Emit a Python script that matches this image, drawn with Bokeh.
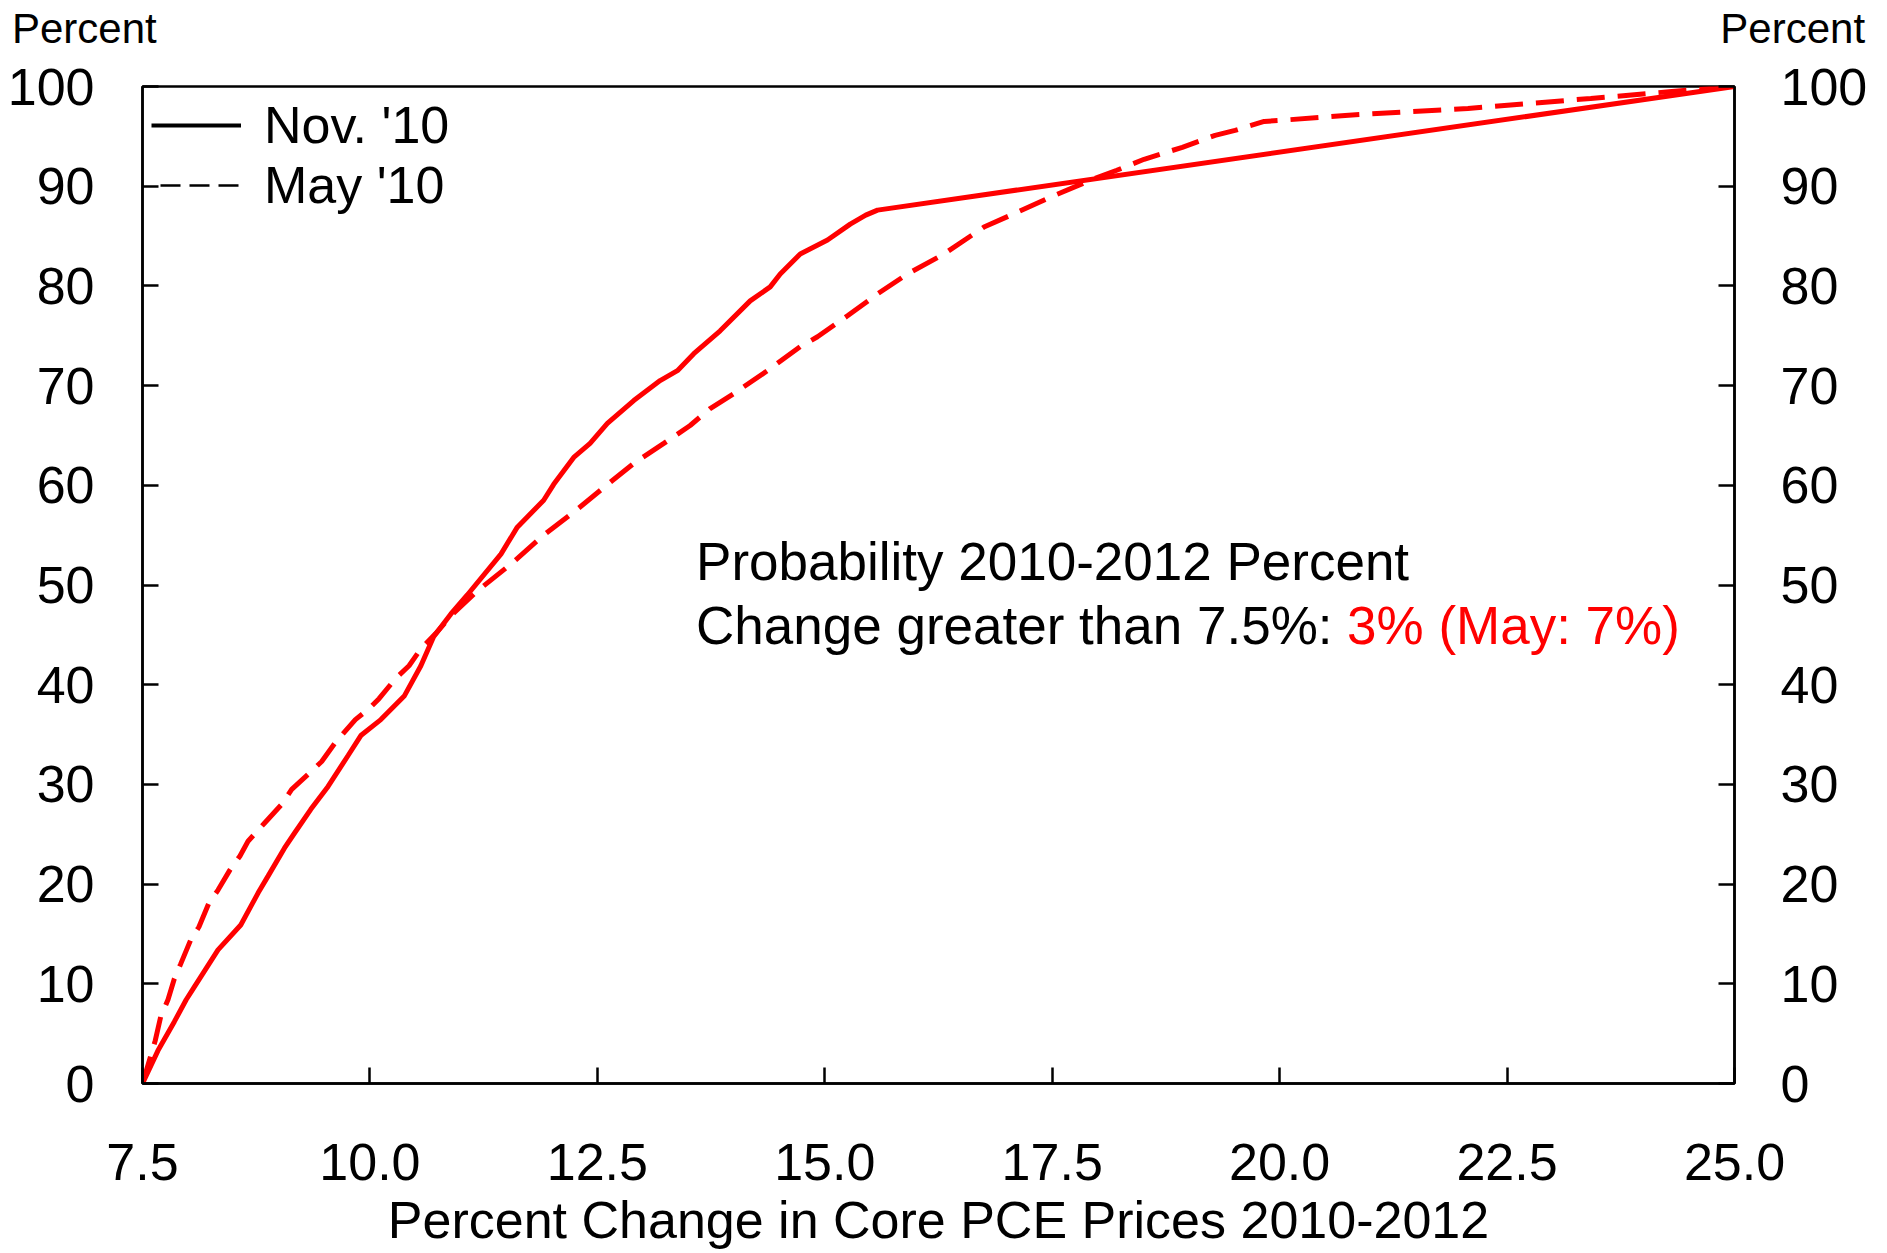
from bokeh.plotting import figure
from bokeh.models import Range1d, LinearAxis, FixedTicker, Label, Legend, LegendItem
from bokeh.embed import file_html
from bokeh.resources import INLINE

# ---- data ----
nov_x = [7.5, 7.67, 7.85, 7.98, 8.07, 8.33, 8.58, 8.77, 8.88, 9.06, 9.17, 9.35, 9.54, 9.76,
         9.90, 10.12, 10.38, 10.56, 10.70, 10.89, 11.07, 11.44, 11.62, 11.91, 12.02, 12.24,
         12.42, 12.61, 12.90, 13.19, 13.38, 13.56, 13.85, 14.18, 14.40, 14.51, 14.73, 15.03,
         15.28, 15.45, 15.58, 25.0]
nov_y = [0, 3.3, 6.2, 8.4, 9.7, 13.4, 15.9, 19.1, 20.8, 23.6, 25.1, 27.5, 29.8, 32.9,
         34.9, 36.5, 38.9, 41.9, 44.8, 47.1, 49.0, 53.1, 55.8, 58.5, 60.1, 62.8,
         64.2, 66.2, 68.5, 70.5, 71.5, 73.2, 75.5, 78.5, 79.9, 81.2, 83.2, 84.6,
         86.2, 87.1, 87.6, 100]

may_x = [7.5, 7.64, 7.70, 7.78, 7.85, 7.92, 8.03, 8.12, 8.23, 8.33, 8.46, 8.57, 8.66, 8.84,
         9.03, 9.14, 9.32, 9.47, 9.62, 9.84, 9.99, 10.10, 10.28, 10.43, 10.56, 10.72, 10.90,
         11.18, 11.55, 11.91, 12.28, 12.64, 12.90, 13.23, 13.52, 13.74, 14.00, 14.37, 14.73,
         14.92, 15.25, 15.58, 15.91, 16.31, 16.75, 17.12, 17.48, 17.92, 18.21, 18.51, 18.93,
         19.29, 19.51, 19.83, 20.01, 20.72, 22.07, 23.42, 24.31, 25.0]
may_y = [0, 4.3, 6.7, 8.4, 10.5, 12.0, 14.4, 15.7, 18.1, 19.4, 21.4, 22.8, 24.3, 26.1,
         28.0, 29.5, 31.0, 32.3, 34.2, 36.5, 37.6, 38.6, 40.6, 41.9, 43.6, 45.1, 47.0,
         49.4, 52.1, 55.0, 57.6, 60.3, 62.2, 64.2, 66.0, 67.7, 69.2, 71.5, 73.9,
         74.9, 77.0, 79.2, 81.2, 83.2, 85.9, 87.4, 88.9, 90.6, 91.6, 92.7, 93.9,
         95.1, 95.6, 96.5, 96.6, 97.1, 97.8, 98.8, 99.5, 100]

x_ticks = [7.5, 10.0, 12.5, 15.0, 17.5, 20.0, 22.5, 25.0]
x_tick_labels = ["7.5", "10.0", "12.5", "15.0", "17.5", "20.0", "22.5", "25.0"]
y_ticks = [0, 10, 20, 30, 40, 50, 60, 70, 80, 90, 100]

series_labels = ["Nov. '10", "May '10"]
x_title = "Percent Change in Core PCE Prices 2010-2012"
y_unit = "Percent"
note_line1 = "Probability 2010-2012 Percent"
note_line2 = "Change greater than 7.5%: "
note_value = "3% (May: 7%)"

FONT = "Liberation Sans"
RED = "#ff0000"
X_LO, X_HI = 7.5, 25.0
Y_LO, Y_HI = 0, 100
NAN = float("nan")

p = figure(width=1887, height=1253,
           x_range=Range1d(X_LO, X_HI), y_range=Range1d(Y_LO, Y_HI),
           output_backend="svg", toolbar_location=None,
           min_border_left=142, min_border_right=153,
           min_border_top=86, min_border_bottom=170)
p.xgrid.visible = False
p.ygrid.visible = False
p.outline_line_color = "black"
p.outline_line_width = 2.5
p.outline_line_alpha = 1.0
p.background_fill_color = "white"
p.border_fill_color = "white"


def style_axis(ax, standoff):
    ax.axis_line_color = "black"
    ax.axis_line_width = 2.5
    ax.major_tick_in = 16
    ax.major_tick_out = 0
    ax.major_tick_line_width = 2.5
    ax.major_tick_line_color = "black"
    ax.minor_tick_line_color = None
    ax.major_label_text_font = FONT
    ax.major_label_text_font_size = "52px"
    ax.major_label_text_color = "black"
    ax.major_label_standoff = standoff


xa = p.xaxis[0]
xa.ticker = FixedTicker(ticks=x_ticks)
xa.major_label_overrides = {t: s for t, s in zip(x_ticks, x_tick_labels)}
style_axis(xa, 60)
xa.axis_label = x_title
xa.axis_label_text_font = FONT
xa.axis_label_text_font_size = "52px"
xa.axis_label_text_font_style = "normal"
xa.axis_label_text_color = "black"
xa.axis_label_standoff = 8

ya = p.yaxis[0]
ya.ticker = FixedTicker(ticks=y_ticks)
style_axis(ya, 48)

yr = LinearAxis(ticker=FixedTicker(ticks=y_ticks))
style_axis(yr, 46)
p.add_layout(yr, "right")

# "Percent" unit captions above the left and right value axes: one caption row,
# drawn as the label of a tick-less axis along the top of the frame
unit_caption = y_unit + "\u00a0" * 134 + y_unit
top_ax = LinearAxis(ticker=FixedTicker(ticks=[], minor_ticks=[]),
                    axis_line_color=None, major_tick_in=0, major_tick_out=0,
                    minor_tick_line_color=None, major_tick_line_color=None,
                    major_label_standoff=0,
                    axis_label=unit_caption, axis_label_standoff=35,
                    axis_label_text_font=FONT, axis_label_text_font_size="42px",
                    axis_label_text_font_style="normal", axis_label_text_color="black")
p.add_layout(top_ax, "above")

# ---- series ----
p.line(nov_x, nov_y, line_color=RED, line_width=5)
p.line(may_x, may_y, line_color=RED, line_width=5, line_dash="28 13")

# legend uses black swatches as in the reference (renderers hold no visible points)
r1 = p.line([NAN], [NAN], line_color="black", line_width=4)
r2 = p.line([NAN], [NAN], line_color="black", line_width=2.5,
            line_dash="20 9", line_dash_offset=20)
legend = Legend(items=[LegendItem(label=series_labels[0], renderers=[r1]),
                       LegendItem(label=series_labels[1], renderers=[r2])],
                location="top_left", margin=9, padding=10, spacing=0,
                glyph_width=90, glyph_height=60, label_height=60, label_standoff=23,
                label_text_font=FONT, label_text_font_size="52px",
                label_text_color="black",
                background_fill_alpha=0, border_line_color=None)
p.add_layout(legend)

# ---- note ----
NOTE_X = 13.585
p.add_layout(Label(x=NOTE_X, y=52.36, text=note_line1,
                   text_align="left", text_baseline="middle",
                   text_font=FONT, text_font_size="53px", text_color="black"))
p.add_layout(Label(x=NOTE_X, y=45.98, text=note_line2,
                   text_align="left", text_baseline="middle",
                   text_font=FONT, text_font_size="53px", text_color="black"))
p.add_layout(Label(x=NOTE_X, y=45.98, x_offset=651, text=note_value,
                   text_align="left", text_baseline="middle",
                   text_font=FONT, text_font_size="53px", text_color=RED))

open("out.html", "w").write(file_html(p, INLINE))
